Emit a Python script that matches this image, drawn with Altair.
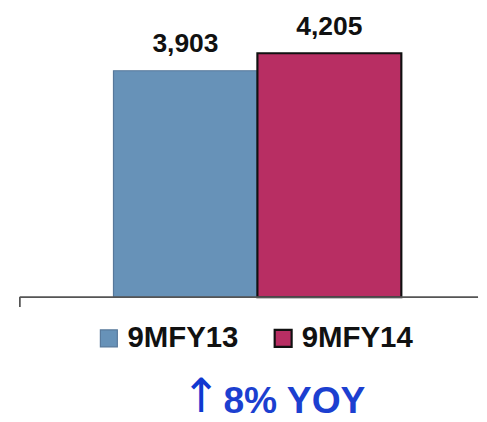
import altair as alt
import pandas as pd

series = ["9MFY13", "9MFY14"]
values = [3903, 4205]
fill_colors = ["#6792b8", "#b82e63"]
stroke_colors = ["#57789a", "#111111"]
stroke_widths = [1.2, 2.2]
arrow_text = ["↑"]
note_text = ["8% YOY"]

df = pd.DataFrame({"series": series, "value": values})
arrow_df = pd.DataFrame({"text": arrow_text})
note_df = pd.DataFrame({"text": note_text})

W, H = 468, 291
FONT = "Liberation Sans"

x_enc = alt.X("series:N", sort=series, axis=None,
              scale=alt.Scale(paddingInner=0, paddingOuter=0.592, align=0.55))
y_enc = alt.Y("value:Q", axis=None, scale=alt.Scale(domain=[0, 4910], nice=False, zero=True))

leg = dict(title=None, orient="none", legendX=76, legendY=318,
           direction="horizontal", symbolType="square",
           symbolSize=300, symbolStrokeWidth=1.6,
           labelFont=FONT, labelFontSize=30, labelFontWeight="bold",
           labelColor="#111111", labelOffset=4, columnPadding=30,
           padding=0)

bars = alt.Chart(df).mark_bar().encode(
    x=x_enc,
    y=y_enc,
    fill=alt.Fill("series:N", sort=series,
                  scale=alt.Scale(domain=series, range=fill_colors),
                  legend=alt.Legend(**leg)),
    stroke=alt.Stroke("series:N", sort=series,
                      scale=alt.Scale(domain=series, range=stroke_colors),
                      legend=alt.Legend(**leg)),
    strokeWidth=alt.StrokeWidth("series:N", sort=series,
                                scale=alt.Scale(domain=series, range=stroke_widths),
                                legend=None),
)

labels = alt.Chart(df).mark_text(font=FONT, fontSize=27, fontWeight="bold",
                                 color="#111111", baseline="alphabetic", dy=-19).encode(
    x=x_enc,
    y=y_enc,
    text=alt.Text("value:Q", format=","),
)

axis_line = alt.Chart(df).mark_rule(color="#555555", strokeWidth=1.5).encode(
    x=alt.value(0), x2=alt.value(W), y=alt.value(H)
)
tick = alt.Chart(df).mark_rule(color="#555555", strokeWidth=1.5).encode(
    x=alt.value(0), y=alt.value(H), y2=alt.value(H + 10)
)

arrow = alt.Chart(arrow_df).mark_text(font="DejaVu Sans", fontSize=48, fontWeight="normal",
                                      color="#1038d0", baseline="alphabetic", align="center").encode(
    x=alt.value(185), y=alt.value(408), text="text:N"
)
note = alt.Chart(note_df).mark_text(font=FONT, fontSize=38, fontWeight="bold",
                                    color="#1c3fd0", baseline="alphabetic", align="left").encode(
    x=alt.value(208), y=alt.value(409), text="text:N"
)

chart = alt.layer(bars, labels, axis_line, tick, arrow, note).properties(
    width=W, height=H,
    padding={"left": 11, "top": 0, "right": 0, "bottom": 0},
).configure_view(stroke=None)

chart.save("out.html", embed_options={"renderer": "svg", "actions": False})
